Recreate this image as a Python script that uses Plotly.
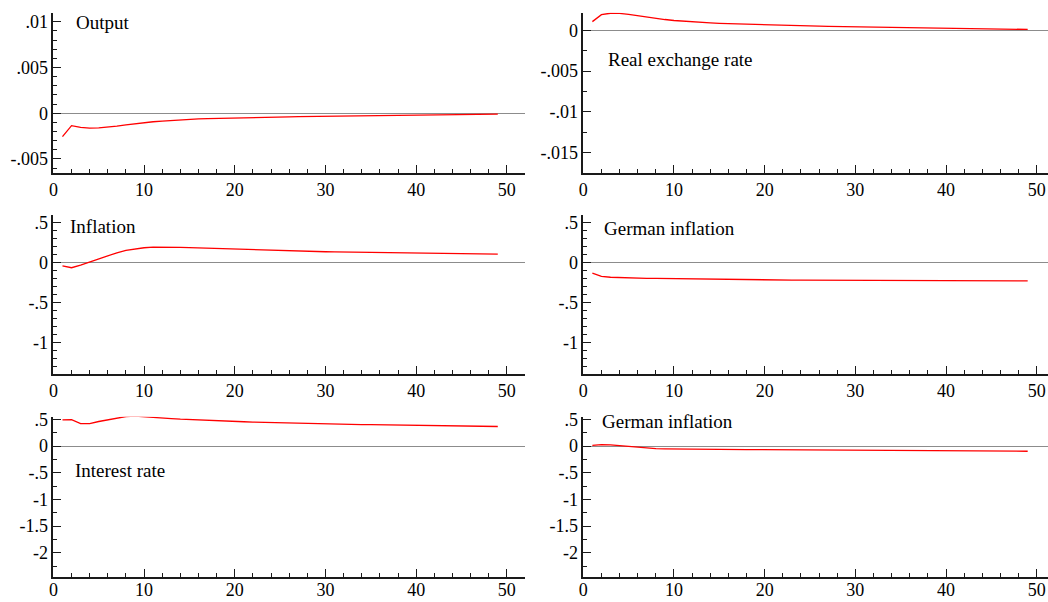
import plotly.graph_objects as go

periods = list(range(1, 50))

output = [-0.00255, -0.00135, -0.00155, -0.00163, -0.00160, -0.00152, -0.00140, -0.00127, -0.00114, -0.00102,
          -0.00093, -0.00085, -0.00078, -0.00071, -0.00066, -0.00062, -0.00059, -0.00056, -0.00054, -0.00051,
          -0.00049, -0.00047, -0.00045, -0.00043, -0.00041, -0.00039, -0.00037, -0.00036, -0.00035, -0.00034,
          -0.00032, -0.00031, -0.00029, -0.00028, -0.00027, -0.00025, -0.00024, -0.00022, -0.00021, -0.00020,
          -0.00019, -0.00018, -0.00016, -0.00015, -0.00014, -0.00013, -0.00012, -0.00011, -0.00010]

real_exchange_rate = [0.00110, 0.00195, 0.00213, 0.00212, 0.00200, 0.00183, 0.00166, 0.00150, 0.00136, 0.00124,
                      0.00115, 0.00107, 0.00100, 0.00094, 0.00089, 0.00085, 0.00081, 0.00077, 0.00074, 0.00071,
                      0.00068, 0.00065, 0.00062, 0.00059, 0.00057, 0.00054, 0.00052, 0.00050, 0.00048, 0.00046,
                      0.00044, 0.00042, 0.00040, 0.00038, 0.00036, 0.00034, 0.00032, 0.00030, 0.00028, 0.00026,
                      0.00025, 0.00023, 0.00022, 0.00020, 0.00019, 0.00017, 0.00016, 0.00015, 0.00014]

inflation = [-0.040, -0.063, -0.030, 0.010, 0.050, 0.090, 0.125, 0.155, 0.175, 0.188,
             0.195, 0.197, 0.196, 0.193, 0.189, 0.185, 0.181, 0.177, 0.173, 0.169,
             0.165, 0.161, 0.157, 0.154, 0.151, 0.148, 0.145, 0.142, 0.140, 0.138,
             0.136, 0.134, 0.132, 0.130, 0.128, 0.126, 0.124, 0.122, 0.121, 0.119,
             0.118, 0.116, 0.115, 0.114, 0.112, 0.111, 0.110, 0.108, 0.107]

german_inflation_1 = [-0.130, -0.172, -0.183, -0.188, -0.191, -0.194, -0.196, -0.198, -0.200, -0.202,
                      -0.204, -0.206, -0.208, -0.209, -0.211, -0.212, -0.213, -0.214, -0.215, -0.216,
                      -0.217, -0.218, -0.219, -0.220, -0.220, -0.221, -0.221, -0.222, -0.222, -0.223,
                      -0.223, -0.224, -0.224, -0.224, -0.225, -0.225, -0.225, -0.226, -0.226, -0.226,
                      -0.227, -0.227, -0.227, -0.228, -0.228, -0.228, -0.229, -0.229, -0.229]

interest_rate = [0.490, 0.495, 0.420, 0.420, 0.460, 0.495, 0.530, 0.553, 0.560, 0.552,
                 0.540, 0.527, 0.515, 0.504, 0.495, 0.488, 0.481, 0.474, 0.467, 0.460,
                 0.455, 0.450, 0.445, 0.440, 0.435, 0.430, 0.425, 0.421, 0.418, 0.415,
                 0.412, 0.409, 0.406, 0.403, 0.401, 0.399, 0.397, 0.395, 0.393, 0.390,
                 0.388, 0.386, 0.384, 0.381, 0.379, 0.376, 0.373, 0.370, 0.366]

german_inflation_2 = [0.013, 0.025, 0.020, 0.005, -0.015, -0.030, -0.040, -0.048, -0.053, -0.056,
                      -0.058, -0.060, -0.062, -0.063, -0.064, -0.065, -0.066, -0.067, -0.068, -0.069,
                      -0.070, -0.071, -0.072, -0.073, -0.074, -0.075, -0.076, -0.077, -0.078, -0.079,
                      -0.080, -0.080, -0.081, -0.081, -0.082, -0.082, -0.083, -0.083, -0.084, -0.085,
                      -0.086, -0.087, -0.088, -0.089, -0.091, -0.093, -0.095, -0.097, -0.098]

titles = ["Output", "Real exchange rate", "Inflation", "German inflation", "Interest rate", "German inflation"]
series = [output, real_exchange_rate, inflation, german_inflation_1, interest_rate, german_inflation_2]

x_ticks = [0, 10, 20, 30, 40, 50]
y_ticks = [
    ([0.01, 0.005, 0, -0.005], [".01", ".005", "0", "-.005"]),
    ([0, -0.005, -0.01, -0.015], ["0", "-.005", "-.01", "-.015"]),
    ([0.5, 0, -0.5, -1], [".5", "0", "-.5", "-1"]),
    ([0.5, 0, -0.5, -1], [".5", "0", "-.5", "-1"]),
    ([0.5, 0, -0.5, -1, -1.5, -2], [".5", "0", "-.5", "-1", "-1.5", "-2"]),
    ([0.5, 0, -0.5, -1, -1.5, -2], [".5", "0", "-.5", "-1", "-1.5", "-2"]),
]
y_ranges = [[-0.0065, 0.011], [-0.0175, 0.0022], [-1.4, 0.6], [-1.4, 0.6], [-2.45, 0.55], [-2.45, 0.55]]
y_minor = [0.001, 0.0025, 0.1, 0.1, 0.25, 0.25]

W, H = 1048, 602
col_px = [(53.4, 525.0), (583.3, 1048.0)]
x_ranges = [[0, 52], [0, 51.24]]
row_px = [(12.7, 172.7), (215.0, 374.0), (416.7, 576.7)]
row_label_shift = [0, 0, -4]
title_pos = [(74, 22), (606, 60), (68, 227), (602, 228), (73, 470), (600, 421)]

FONT = "Liberation Serif, DejaVu Serif, serif"
AX = "#1a1a1a"

fig = go.Figure()
layout = dict(template="none", width=W, height=H, margin=dict(l=0, r=0, t=0, b=0, pad=0),
              paper_bgcolor="white", plot_bgcolor="white", showlegend=False,
              font=dict(family=FONT, size=18, color="black"))
annotations = []
for i in range(6):
    r, c = divmod(i, 2)
    n = i + 1
    xa = "xaxis" if n == 1 else f"xaxis{n}"
    ya = "yaxis" if n == 1 else f"yaxis{n}"
    xr = "x" if n == 1 else f"x{n}"
    yr = "y" if n == 1 else f"y{n}"
    fig.add_trace(go.Scatter(x=periods, y=series[i], mode="lines",
                             line=dict(color="#ff0000", width=1.3),
                             xaxis=xr, yaxis=yr, hoverinfo="skip"))
    x0, x1 = col_px[c]
    t0, t1 = row_px[r]
    layout[xa] = dict(domain=[x0 / W, x1 / W], range=x_ranges[c], anchor=yr, automargin=False,
                      tickmode="array", tickvals=x_ticks, ticktext=[str(v) for v in x_ticks],
                      ticks="inside", ticklen=8, tickwidth=1.2, tickcolor=AX,
                      ticklabelstandoff=row_label_shift[r],
                      minor=dict(dtick=2, tick0=0, ticks="inside", ticklen=4, tickwidth=1, tickcolor=AX),
                      showline=True, linecolor=AX, linewidth=1.6, showgrid=False, zeroline=False,
                      tickfont=dict(family=FONT, size=18), fixedrange=True)
    tv, tt = y_ticks[i]
    layout[ya] = dict(domain=[1 - t1 / H, 1 - t0 / H], range=y_ranges[i], anchor=xr, automargin=False,
                      tickmode="array", tickvals=tv, ticktext=tt,
                      ticks="inside", ticklen=8, tickwidth=1.2, tickcolor=AX,
                      minor=dict(dtick=y_minor[i], tick0=0, ticks="inside", ticklen=4, tickwidth=1, tickcolor=AX),
                      showline=True, linecolor=AX, linewidth=1.6, showgrid=False,
                      zeroline=True, zerolinecolor="#8c8c8c", zerolinewidth=1,
                      tickfont=dict(family=FONT, size=18), fixedrange=True)
    px, py = title_pos[i]
    annotations.append(dict(text=titles[i], x=px / W, y=1 - py / H, xref="paper", yref="paper",
                            xanchor="left", yanchor="middle", showarrow=False,
                            font=dict(family=FONT, size=19, color="black")))
layout["annotations"] = annotations
fig.update_layout(**layout)
fig.write_html("out.html", config={"displayModeBar": False})
